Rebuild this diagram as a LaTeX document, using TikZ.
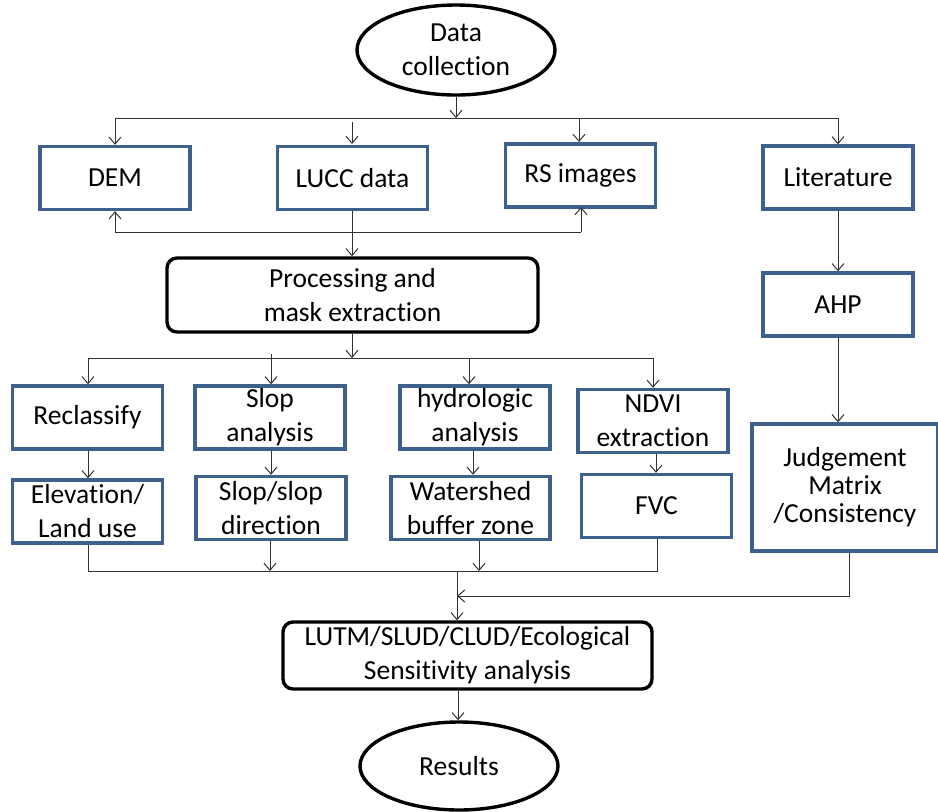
\documentclass[tikz,border=0pt]{standalone}
\usepackage{fontspec}
\setmainfont{Carlito}[Ligatures=NoCommon]
\usetikzlibrary{arrows.meta,shapes.geometric}
\definecolor{boxblue}{RGB}{62,96,140}
\definecolor{wire}{RGB}{50,50,50}
\begin{document}
\begin{tikzpicture}[x=1pt,y=-1pt,
  every node/.style={font=\fontsize{27.5}{34}\selectfont, align=center, inner sep=0pt},
  bluebox/.style={draw=boxblue, line width=3.4pt, minimum width=150pt, minimum height=63pt},
  roundbox/.style={draw=black, line width=3.4pt, rounded corners=10pt},
  oval/.style={draw=black, line width=3.4pt, ellipse},
  link/.style={draw=wire, line width=1pt},
  arr/.style={link, -{Straight Barb[length=7pt,width=12pt]}}
]
\useasboundingbox (0,0) rectangle (938,812);

% terminals
\node[oval, minimum width=198pt, minimum height=90pt] (dc) at (456,50) {Data\\collection};
\node[oval, minimum width=198pt, minimum height=88pt] (res) at (459,766) {Results};

% data sources
\node[bluebox] (dem)  at (115,178)   {DEM};
\node[bluebox] (lucc) at (352.5,178) {LUCC data};
\node[bluebox] (rs)   at (580.5,175.5) {RS images};
\node[bluebox] (lit)  at (838,177.5) {Literature};

% preprocessing
\node[roundbox, minimum width=371pt, minimum height=74pt] (proc) at (352.5,295) {Processing and\\mask extraction};

% AHP branch
\node[bluebox] (ahp) at (838,304.5) {AHP};
\node[bluebox, minimum width=186pt, minimum height=127pt,
      font=\fontsize{27.5}{28}\selectfont] (judge) at (845,487.5) {Judgement\\Matrix\\/Consistency};

% analysis steps
\node[bluebox] (recl)  at (87.5,417.5) {Reclassify};
\node[bluebox] (slop)  at (270,417.5)  {Slop\\analysis};
\node[bluebox] (hydro) at (475,417.5)  {hydrologic\\analysis};
\node[bluebox] (ndvi)  at (653,421)    {NDVI\\extraction};

\node[bluebox] (elev)    at (87.5,511.5) {Elevation/\\Land use};
\node[bluebox] (slopdir) at (271,508)    {Slop/slop\\direction};
\node[bluebox, minimum width=159pt] (water) at (470.5,508) {Watershed\\buffer zone};
\node[bluebox] (fvc)     at (656.5,506)  {FVC};

% final analysis
\node[roundbox, minimum width=369pt, minimum height=67pt] (lutm) at (467.5,655.5) {LUTM/SLUD/CLUD/Ecological\\Sensitivity analysis};

% junction levels
\coordinate (splitA) at (456,118);
\coordinate (backA)  at (352,232);
\coordinate (splitB) at (352,358);
\coordinate (mergeA) at (457,571);
\coordinate (mergeB) at (457,596);

% data collection fan-out
\draw[arr] (dc.south) -- (splitA);
\draw[link] (dem.north |- splitA) -- (lit.north |- splitA);
\draw[arr] (dem.north |- splitA) -- (dem.north);
\draw[arr] (352,122) -- (352,144);
\draw[arr] (579,118) -- (579,142);
\draw[arr] (lit.north |- splitA) -- (lit.north);

% feedback to DEM and RS images
\draw[link] (dem.south |- backA) -- (581,232);
\draw[arr] (dem.south |- backA) -- (dem.south);
\draw[arr] (581,232) -- (581,207);
\draw[arr] (lucc.south -| backA) -- (proc.north -| backA);

% processing fan-out
\draw[arr] (proc.south -| splitB) -- (splitB);
\draw[link] (88,358) -- (653,358);
\draw[arr] (88,358) -- (recl.north -| 88,0);
\draw[arr] (271,354) -- (slop.north -| 271,0);
\draw[arr] (469,358) -- (hydro.north -| 469,0);
\draw[arr] (653,358) -- (ndvi.north);

% step chains
\draw[arr] (recl.south -| 88,0) -- (elev.north -| 88,0);
\draw[arr] (slop.south -| 271,0) -- (slopdir.north -| 271,0);
\draw[arr] (hydro.south -| 473,0) -- (water.north -| 473,0);
\draw[arr] (ndvi.south -| 656,0) -- (fvc.north -| 656,0);

% merge of step results
\draw[link] (elev.south -| 88,0) |- (657,571) -- (fvc.south -| 657,0);
\draw[arr] (slopdir.south -| 270,0) -- (270,571);
\draw[arr] (water.south -| 479,0) -- (479,571);
\draw[arr] (mergeA) -- (lutm.north -| mergeA);

% AHP chain
\draw[arr] (lit.south) -- (ahp.north);
\draw[arr] (ahp.south) -- (judge.north -| ahp.south);
\draw[arr] (judge.south -| 849,0) |- (mergeB);

% results
\draw[arr] (lutm.south -| 458,0) -- (res.north -| 458,0);
\end{tikzpicture}
\end{document}
